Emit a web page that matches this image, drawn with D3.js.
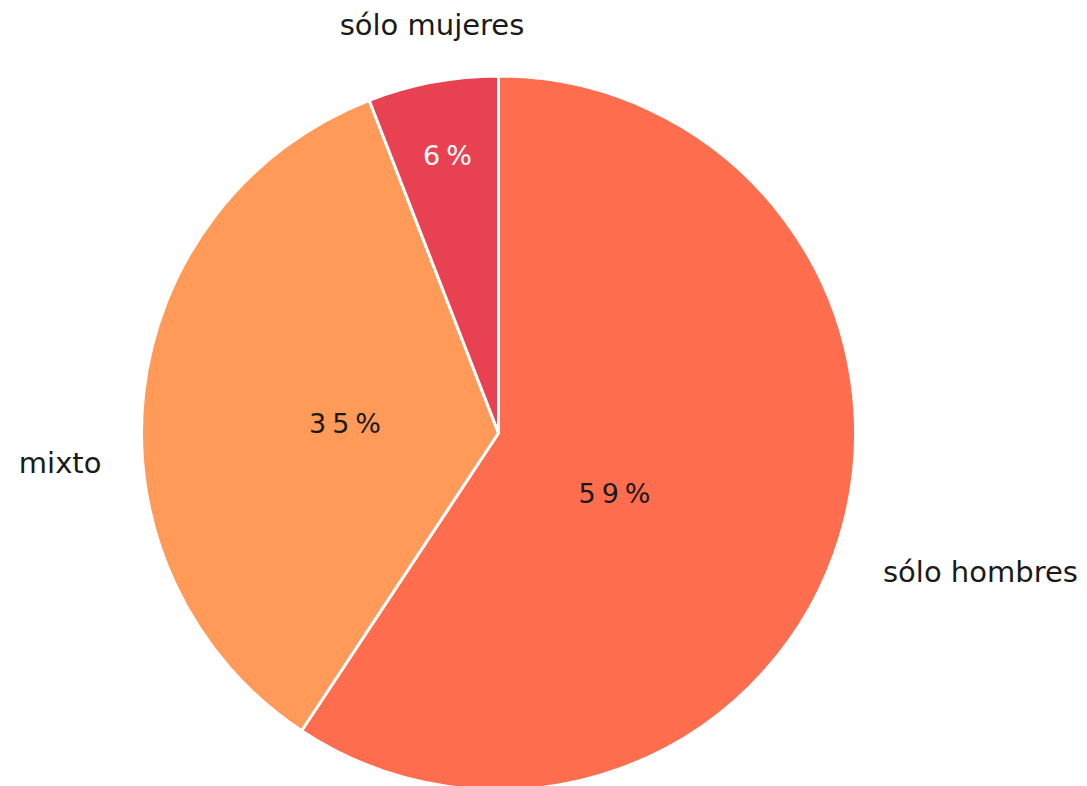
<!DOCTYPE html>
<html>
<head>
<meta charset="utf-8">
<script src="https://cdn.jsdelivr.net/npm/d3@7"></script>
<style>
  html, body { margin: 0; padding: 0; background: #fff; }
  svg { display: block; }
  text { font-family: "DejaVu Sans", "Noto Sans", sans-serif; }
</style>
</head>
<body>
<svg id="chart" width="1087" height="786"></svg>
<script>
const categories = ["sólo hombres", "mixto", "sólo mujeres"];
const values = [59.3, 34.8, 5.9];
const colors = ["#FF6D4F", "#FF9A58", "#E84152"];
const pctColors = ["#1a1a1a", "#1a1a1a", "#ffffff"];

const cx = 498.5, cy = 433, R = 357;

const svg = d3.select("#chart");
const g = svg.append("g").attr("transform", `translate(${cx},${cy})`);

const data = categories.map((c, i) => ({ cat: c, value: values[i], i }));
const total = d3.sum(values);
const pie = d3.pie().sort(null).value(d => d.value);
const arcs = pie(data);
const arc = d3.arc().innerRadius(0).outerRadius(R);

g.selectAll("path.slice").data(arcs).join("path")
  .attr("class", "slice")
  .attr("d", arc)
  .attr("fill", d => colors[d.data.i])
  .attr("stroke", "#fff")
  .attr("stroke-width", 3)
  .attr("stroke-linejoin", "round");

// label baseline placement (radius factor, angle offset in degrees)
const pctPos = [[0.379, 14.26], [0.430, -6.02], [0.764, -0.15]];
const catPos = [[1.413, 0.44], [1.233, -11.37], [1.130, 1.13]];

function polar(d, pos) {
  const a = (d.startAngle + d.endAngle) / 2 + pos[1] * Math.PI / 180;
  const r = R * pos[0];
  return `translate(${Math.sin(a) * r},${-Math.cos(a) * r})`;
}

const pctLS = 6;
g.selectAll("text.pct").data(arcs).join("text")
  .attr("class", "pct")
  .attr("transform", d => polar(d, pctPos[d.data.i]))
  .attr("text-anchor", "middle")
  .attr("dx", pctLS / 2)
  .attr("fill", d => pctColors[d.data.i])
  .style("font-size", "27px")
  .style("letter-spacing", pctLS + "px")
  .text(d => Math.round(d.data.value / total * 100) + "%");

g.selectAll("text.cat").data(arcs).join("text")
  .attr("class", "cat")
  .attr("transform", d => polar(d, catPos[d.data.i]))
  .attr("text-anchor", "middle")
  .attr("fill", "#1a1a1a")
  .style("font-size", "29px")
  .text(d => d.data.cat);
</script>
</body>
</html>
